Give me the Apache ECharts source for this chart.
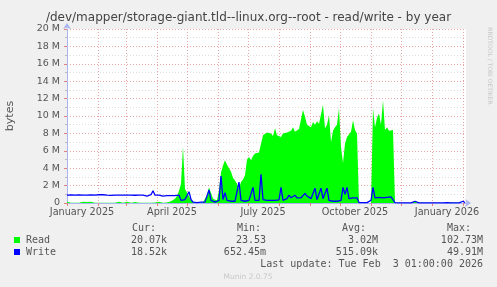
<!DOCTYPE html>
<html>
<head>
<meta charset="utf-8">
<script src="https://cdn.jsdelivr.net/npm/echarts@6/dist/echarts.min.js"></script>
<style>
html,body{margin:0;padding:0;background:#f0f0f0;}
#c{width:497px;height:287px;}
</style>
</head>
<body>
<div id="c"></div>
<script>
// Sample spacing of the series below: one value every 2 days, starting 1 Jan 2025 (day 0)
const sampleStepDays = 2;
// Read, in MB/s (millions of bytes), one value per 2 days
const readM = [
 0.15,0.1,0.03,0.02,0.02,0.02,0.02,0.03,0.15,0.15,
 0.12,0.15,0.15,0.1,0.02,0.02,0.02,0.02,0.02,0.02,
 0.02,0.02,0.02,0.02,0.02,0.03,0.15,0.1,0.02,0.02,
 0.15,0.03,0.02,0.03,0.12,0.15,0.04,0.15,0.03,0.02,
 0.03,0.02,0.04,0.15,0.05,0.03,0.15,0.05,0.04,0.05,
 0.06,0.1,0.2,0.3,0.5,0.8,1.4,2.2,6.5,1.6,
 1.2,0.8,0.3,0.1,0.1,0.05,0.05,0.08,0.1,0.1,
 0.9,1.8,1.6,0.5,0.3,0.3,1.5,3.5,4.3,4.9,
 4.4,4.0,3.6,2.9,2.6,2.2,1.6,2.4,2.7,3.2,
 5.0,5.3,4.9,5.4,5.7,5.5,5.8,6.8,7.8,7.6,
 8.1,7.9,8.0,7.7,8.6,7.8,8.0,7.6,8.0,7.9,
 8.1,8.0,8.3,8.7,8.2,8.4,8.5,9.6,10.7,9.9,
 9.0,9.2,8.7,9.3,9.0,9.4,9.1,10.2,11.3,8.6,
 9.0,10.1,7.0,8.3,8.7,9.0,10.9,6.4,4.6,6.8,
 7.6,7.8,8.2,9.5,8.4,8.0,0,0,0,0,
 0,0,0,10.9,8.7,9.8,10.3,9.0,11.8,8.4,
 8.7,8.3,8.2,8.4,0,0.02,0.02,0.02,0.02,0.02,
 0.02,0.02,0.02,0.1,0.2,0.05,0.02,0.02,0.02,0.02,
 0.02,0.02,0.02,0.02,0.02,0.02,0.02,0.02,0.02,0.02,
 0.1,0.3,0.05,0.02,0.02,0.02,0.02,0.02,0.1,0.05
];
// Write, in MB/s, one value per 2 days
const writeM = [
 0.9,0.85,0.92,0.88,0.9,0.86,0.92,0.88,0.9,0.85,
 0.9,0.88,0.92,0.9,0.9,0.92,0.95,1.0,0.95,0.92,
 0.9,0.9,0.88,0.9,0.9,0.91,0.9,0.89,0.9,0.9,
 0.9,0.91,0.9,0.9,0.89,0.9,0.9,0.9,0.9,0.88,
 0.8,0.85,0.95,1.4,0.9,0.85,0.9,0.85,0.8,0.9,
 0.85,0.9,0.85,0.9,0.85,1.0,0.9,0.3,0.2,0.4,
 0.3,1.3,0.4,0.1,0.1,0.05,0.1,0.1,0.05,0.1,
 0.3,1.5,0.3,0.1,0.1,0.1,0.3,3.1,0.4,1.2,
 0.3,0.2,0.2,0.3,0.2,0.3,2.4,0.3,0.2,0.2,
 0.2,0.3,0.3,1.8,0.3,0.2,0.3,3.3,0.4,0.3,
 0.3,0.35,0.3,0.4,0.3,0.3,0.35,1.8,0.3,0.4,
 0.5,0.9,0.6,0.5,0.9,0.6,0.7,0.6,0.8,1.1,
 0.8,0.6,0.5,0.6,1.7,0.4,0.3,1.7,0.5,0.4,
 1.7,0.3,0.2,0.2,0.25,0.2,0.2,0.3,1.8,1.0,
 1.8,0.5,0.5,0.6,0.5,0.6,0.05,0.05,0.05,0.05,
 0.05,0.05,0.3,1.8,0.6,0.7,0.65,0.7,0.6,0.7,
 0.65,0.6,0.7,0.6,0.05,0.02,0.02,0.02,0.02,0.02,
 0.02,0.02,0.02,0.05,0.2,0.05,0.02,0.02,0.02,0.02,
 0.02,0.02,0.02,0.02,0.02,0.02,0.02,0.02,0.02,0.02,
 0.05,0.2,0.02,0.02,0.02,0.02,0.02,0.02,0.2,0.02
];
// Month starts (days since 1 Jan 2025) and label anchors (mid-month)
const monthStartDays = [0,31,59,90,120,151,181,212,243,273,304,334,365,396];
const tickLabelDays = [15,105,196,288,380];
const tickLabels = ['January 2025','April 2025','July 2025','October 2025','January 2026'];
const yTicks = [0,2,4,6,8,10,12,14,16,18,20];

const statHeaders = ['Cur:','Min:','Avg:','Max:'];
const readStats = ['20.07k','23.53','3.02M','102.73M'];
const writeStats = ['18.52k','652.45m','515.09k','49.91M'];
const seriesNames = ['Read','Write'];
const colors = ['#00ff00','#0000ff'];

const title = '/dev/mapper/storage-giant.tld--linux.org--root - read/write - by year';
const lastUpdate = 'Last update: Tue Feb  3 01:00:00 2026';

const chart = echarts.init(document.getElementById('c'), null, {renderer:'canvas'});
const toPts = arr => arr.map((v,i)=>[i*sampleStepDays, v]);

const mono = '10px "DejaVu Sans Mono"';
const txtCol = '#555';
const headerX = [132,237,342,447];
const valRight = [167,266,378,483];
const graphics = [];
statHeaders.forEach((h,i)=>graphics.push({type:'text',style:{text:h,x:headerX[i],y:228,font:mono,fill:txtCol,textAlign:'left',textVerticalAlign:'middle'}}));
[readStats,writeStats].forEach((row,r)=>{
  const y = 240 + r*12;
  graphics.push({type:'rect',shape:{x:14,y:y-3,width:6,height:6},style:{fill:colors[r]}});
  graphics.push({type:'text',style:{text:seriesNames[r],x:26,y:y,font:mono,fill:txtCol,textAlign:'left',textVerticalAlign:'middle'}});
  row.forEach((v,i)=>graphics.push({type:'text',style:{text:v,x:valRight[i],y:y,font:mono,fill:txtCol,textAlign:'right',textVerticalAlign:'middle'}}));
});
graphics.push({type:'text',style:{text:lastUpdate,x:483,y:264,font:mono,fill:txtCol,textAlign:'right',textVerticalAlign:'middle'}});
graphics.push({type:'text',style:{text:'Munin 2.0.75',x:248,y:277,font:'7.5px "DejaVu Sans"',fill:'#c8c8c8',textAlign:'center',textVerticalAlign:'middle'}});
graphics.push({type:'text',style:{text:title,x:248.5,y:18,font:'12px "DejaVu Sans"',fill:'#444',textAlign:'center',textVerticalAlign:'middle'}});
graphics.push({type:'text',x:10,y:116,rotation:Math.PI/2,style:{text:'bytes',x:0,y:0,font:'11px "DejaVu Sans"',fill:txtCol,textAlign:'center',textVerticalAlign:'middle'}});
graphics.push({type:'text',x:490,y:66,rotation:-Math.PI/2,style:{text:'RRDTOOL / TOBI OETIKER',x:0,y:0,font:'6px "DejaVu Sans"',fill:'#c8c8c8',textAlign:'center',textVerticalAlign:'middle'}});

chart.setOption({
  backgroundColor:'#f0f0f0',
  animation:false,
  grid:{left:67,right:31,top:29,bottom:84,show:true,backgroundColor:'#ffffff',borderWidth:0},
  xAxis:{
    type:'value',min:0,max:399,
    axisLine:{show:true,onZero:false,lineStyle:{color:'#aab4f0',width:1},symbol:['none','arrow'],symbolSize:[6,6],symbolOffset:[0,5]},
    axisTick:{show:true,length:3,customValues:monthStartDays,lineStyle:{color:'#e08080'}},
    splitLine:{show:true,lineStyle:{color:'#e6a6a6',type:[1,2],width:1}},
    axisLabel:{customValues:tickLabelDays,formatter:v=>tickLabels[tickLabelDays.indexOf(v)]||'',color:txtCol,fontFamily:'DejaVu Sans',fontSize:9.7,margin:4}
  },
  yAxis:{
    type:'value',min:0,max:20,interval:2,
    axisLine:{show:true,lineStyle:{color:'#aab4f0',width:1},symbol:['none','arrow'],symbolSize:[6,6],symbolOffset:[0,6]},
    axisTick:{show:true,length:3,lineStyle:{color:'#e08080'}},
    minorTick:{show:true,splitNumber:2,length:2,lineStyle:{color:'#bbbbbb'}},
    splitLine:{show:true,lineStyle:{color:'#e6a6a6',type:[1,2],width:1}},
    minorSplitLine:{show:true,lineStyle:{color:'#dddddd',type:[1,2],width:1}},
    axisLabel:{formatter:v=>v===0?'0':v+' M',color:txtCol,fontFamily:'DejaVu Sans',fontSize:9.5,margin:7}
  },
  series:[
    {name:'Read',type:'line',data:toPts(readM),symbol:'none',lineStyle:{width:0},areaStyle:{color:colors[0],opacity:1},itemStyle:{color:colors[0]},z:2},
    {name:'Write',type:'line',data:toPts(writeM),symbol:'none',lineStyle:{width:1.3,color:colors[1]},itemStyle:{color:colors[1]},z:3}
  ],
  graphic:graphics
});
</script>
</body>
</html>
